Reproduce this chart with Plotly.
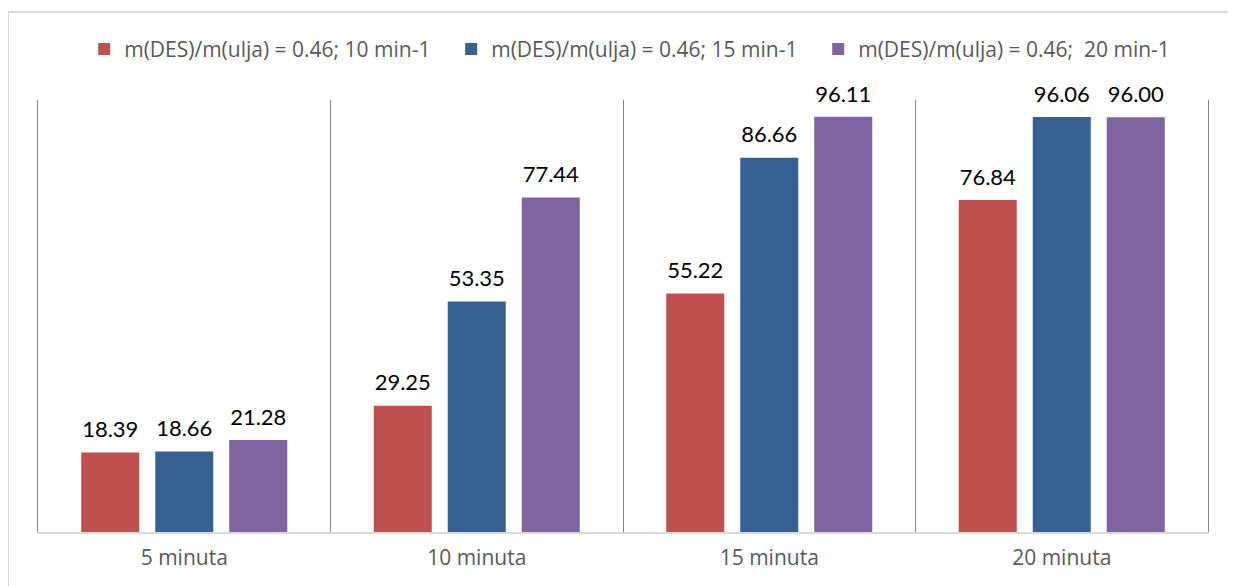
import plotly.graph_objects as go

categories = ["5 minuta", "10 minuta", "15 minuta", "20 minuta"]
series_names = [
    "m(DES)/m(ulja) = 0.46; 10 min-1",
    "m(DES)/m(ulja) = 0.46; 15 min-1",
    "m(DES)/m(ulja) = 0.46;  20 min-1",
]
vals_10 = [18.39, 29.25, 55.22, 76.84]
vals_15 = [18.66, 53.35, 86.66, 96.06]
vals_20 = [21.28, 77.44, 96.11, 96.00]
colors = ["#C0504D", "#366092", "#8064A2"]

fig = go.Figure()

for i, (name, vals) in enumerate(zip(series_names, [vals_10, vals_15, vals_20])):
    fig.add_trace(go.Bar(
        x=categories, y=vals, name=name,
        marker=dict(color=colors[i], line=dict(width=0)),
        offsetgroup=str(i),
    ))

# value labels as text-only scatter, grouped like the bars so they sit above them
for i, vals in enumerate([vals_10, vals_15, vals_20]):
    fig.add_trace(go.Scatter(
        x=categories, y=vals, mode="markers+text",
        text=[f"{v:.2f}" for v in vals], textposition="top center",
        textfont=dict(family="Lato", size=22, color="#000000"),
        marker=dict(size=14, color="rgba(0,0,0,0)"),
        offsetgroup=str(i), showlegend=False, hoverinfo="skip",
        cliponaxis=False,
    ))

# page body adds 8px offset, margins compensate
fig.update_layout(
    width=1236, height=586,
    margin=dict(l=30, r=36, t=92, b=62),
    paper_bgcolor="white", plot_bgcolor="white",
    barmode="group", scattermode="group",
    bargap=0.241, bargroupgap=0.216, scattergap=0.241,
    font=dict(family="Open Sans", size=21, color="#595959"),
    legend=dict(
        orientation="h", x=0.51, xanchor="center", y=1.117, yanchor="middle",
        font=dict(family="Open Sans", size=21, color="#595959"),
        entrywidth=322, itemwidth=30,
        bgcolor="rgba(0,0,0,0)",
    ),
    showlegend=True,
)

fig.update_xaxes(
    type="category", tickson="boundaries", ticks="",
    showgrid=True, gridcolor="#868686", gridwidth=1,
    showline=True, linecolor="#d9d9d9", linewidth=2,
    ticklabelstandoff=6,
    tickfont=dict(family="Open Sans", size=21, color="#595959"),
)
fig.update_yaxes(
    range=[0, 100], showticklabels=False, showgrid=False, zeroline=False,
    showline=True, mirror=True, linecolor="#868686", linewidth=1, ticks="",
)

# light grey outer chart border (top and left edges visible)
fig.add_shape(type="line", xref="paper", yref="paper",
              x0=-0.0256, x1=1.1, y0=1.2037, y1=1.2037,
              line=dict(color="#d9d9d9", width=2))
fig.add_shape(type="line", xref="paper", yref="paper",
              x0=-0.0256, x1=-0.0256, y0=1.2037, y1=-0.2,
              line=dict(color="#d9d9d9", width=2))

fig.write_html("out.html")
